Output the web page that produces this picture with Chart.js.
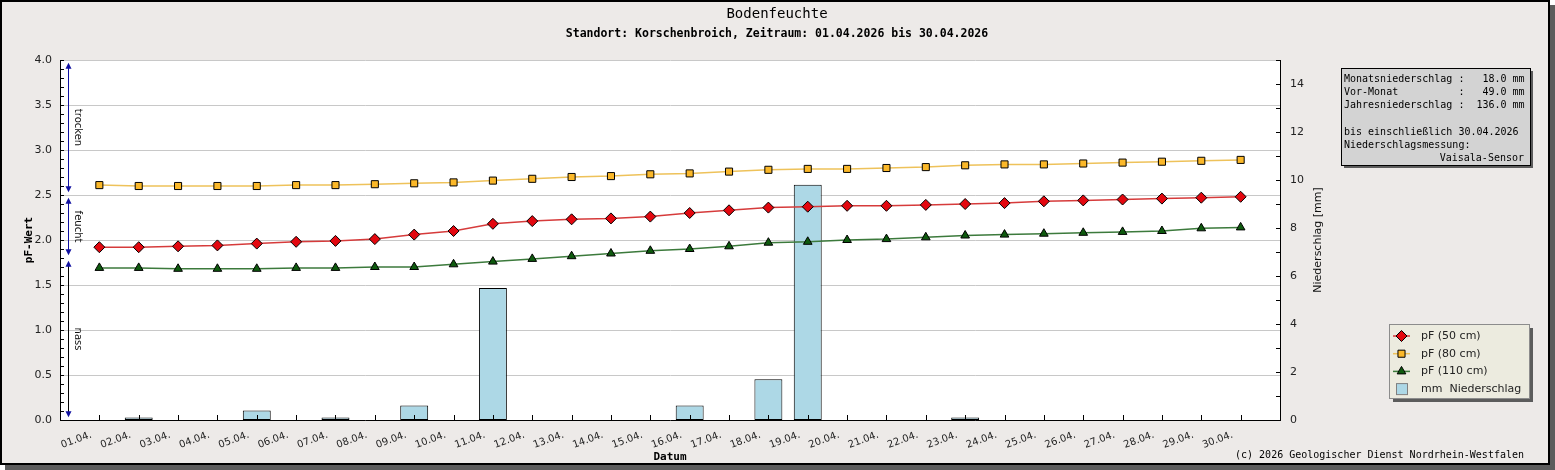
<!DOCTYPE html>
<html>
<head>
<meta charset="utf-8">
<title>Bodenfeuchte</title>
<script src="https://cdn.jsdelivr.net/npm/chart.js@4.4.1/dist/chart.umd.min.js"></script>
<style>
  body { margin: 0; background: #ffffff; }
</style>
</head>
<body>
<canvas id="myChart" width="1555" height="470"></canvas>
<script>
const tage = ["01.04.", "02.04.", "03.04.", "04.04.", "05.04.", "06.04.", "07.04.", "08.04.", "09.04.", "10.04.",
  "11.04.", "12.04.", "13.04.", "14.04.", "15.04.", "16.04.", "17.04.", "18.04.", "19.04.", "20.04.",
  "21.04.", "22.04.", "23.04.", "24.04.", "25.04.", "26.04.", "27.04.", "28.04.", "29.04.", "30.04."];
const pf50 = [1.92, 1.92, 1.93, 1.94, 1.96, 1.98, 1.99, 2.01, 2.06, 2.10,
  2.18, 2.21, 2.23, 2.24, 2.26, 2.30, 2.33, 2.36, 2.37, 2.38,
  2.38, 2.39, 2.40, 2.41, 2.43, 2.44, 2.45, 2.46, 2.47, 2.48];
const pf80 = [2.61, 2.60, 2.60, 2.60, 2.60, 2.61, 2.61, 2.62, 2.63, 2.64,
  2.66, 2.68, 2.70, 2.71, 2.73, 2.74, 2.76, 2.78, 2.79, 2.79,
  2.80, 2.81, 2.83, 2.84, 2.84, 2.85, 2.86, 2.87, 2.88, 2.89];
const pf110 = [1.69, 1.69, 1.68, 1.68, 1.68, 1.69, 1.69, 1.70, 1.70, 1.73,
  1.76, 1.79, 1.82, 1.85, 1.88, 1.90, 1.93, 1.97, 1.98, 2.00,
  2.01, 2.03, 2.05, 2.06, 2.07, 2.08, 2.09, 2.10, 2.13, 2.14];
const niederschlag = [0, 0.1, 0, 0, 0.4, 0, 0.1, 0, 0.6, 0,
  5.5, 0, 0, 0, 0, 0.6, 0, 1.7, 9.8, 0,
  0, 0, 0.1, 0, 0, 0, 0, 0, 0, 0];

// Bereiche links an der pF-Achse
const zonen = ["trocken", "feucht", "nass"];
const zoneVon = [2.5, 1.8, 0.0];
const zoneBis = [4.0, 2.5, 1.8];

const infoZeilen = [
  "Monatsniederschlag :   18.0 mm",
  "Vor-Monat          :   49.0 mm",
  "Jahresniederschlag :  136.0 mm",
  "",
  "bis einschließlich 30.04.2026",
  "Niederschlagsmessung:"
];
const sensor = "Vaisala-Sensor";

const mono = "'DejaVu Sans Mono', 'Liberation Mono', monospace";
const sans = "'DejaVu Sans', 'Noto Sans', sans-serif";

// Tag i liegt auf x = i + 1, links und rechts bleibt ein Tag frei
const punkte = (werte) => werte.map((v, i) => ({x: i + 1, y: v}));

function pfeil(c, x, y, dir) {
  c.beginPath();
  c.moveTo(x, y);
  c.lineTo(x - 3, y - 6 * dir);
  c.lineTo(x + 3, y - 6 * dir);
  c.closePath();
  c.fill();
}

const extras = {
  id: 'extras',
  beforeDraw(chart) {
    const c = chart.ctx, a = chart.chartArea;
    c.save();
    c.fillStyle = '#5c5c5c';
    c.fillRect(5, 5, 1550, 465);
    c.fillStyle = '#edeae8';
    c.fillRect(0, 0, 1550, 465);
    c.strokeStyle = '#000';
    c.lineWidth = 2;
    c.strokeRect(1, 1, 1548, 463);
    c.fillStyle = '#ffffff';
    c.fillRect(a.left, a.top, a.right - a.left, a.bottom - a.top);
    c.restore();
  },
  afterDraw(chart) {
    const c = chart.ctx, a = chart.chartArea;
    const x = chart.scales.x, y = chart.scales.y, y2 = chart.scales.y2;
    c.save();

    // kleine Striche
    c.strokeStyle = '#000';
    c.lineWidth = 1;
    c.beginPath();
    tage.forEach((t, i) => {
      const px = Math.round(x.getPixelForValue(i + 1)) + 0.5;
      c.moveTo(px, a.bottom);
      c.lineTo(px, a.bottom - 5);
    });
    y.ticks.forEach(t => {
      const py = Math.round(y.getPixelForValue(t.value)) + 0.5;
      c.moveTo(a.left, py);
      c.lineTo(a.left + 4, py);
    });
    y2.ticks.forEach(t => {
      const py = Math.round(y2.getPixelForValue(t.value)) + 0.5;
      c.moveTo(a.right - 4, py);
      c.lineTo(a.right + 1, py);
    });
    c.stroke();

    // trocken / feucht / nass
    const ax = a.left + 8.5;
    zonen.forEach((name, i) => {
      const top = y.getPixelForValue(zoneBis[i] - 0.03);
      const bot = y.getPixelForValue(zoneVon[i] + 0.03);
      c.strokeStyle = i == 2 ? '#000000' : '#1010a0';
      c.beginPath();
      c.moveTo(ax, top + 4);
      c.lineTo(ax, bot - 4);
      c.stroke();
      c.fillStyle = '#1010a0';
      pfeil(c, ax, top, -1);
      pfeil(c, ax, bot, 1);
      c.save();
      c.translate(ax + 9, (top + bot) / 2);
      c.rotate(Math.PI / 2);
      c.fillStyle = '#111';
      c.font = "10px " + sans;
      c.textAlign = 'center';
      c.textBaseline = 'middle';
      c.fillText(name, 0, 0);
      c.restore();
    });

    // Titel
    c.fillStyle = '#000';
    c.textAlign = 'center';
    c.textBaseline = 'middle';
    c.font = "14px " + mono;
    c.fillText("Bodenfeuchte", 777, 14);
    c.font = "bold 11.5px " + mono;
    c.fillText("Standort: Korschenbroich, Zeitraum: 01.04.2026 bis 30.04.2026", 777, 34);

    // rechte Achsenbeschriftung
    c.save();
    c.translate(1318, (a.top + a.bottom) / 2);
    c.rotate(-Math.PI / 2);
    c.font = "11px " + sans;
    c.fillStyle = '#111';
    c.fillText("Niederschlag [mm]", 0, 0);
    c.restore();

    // Infokasten
    c.fillStyle = '#5c5c5c';
    c.fillRect(1344, 71, 189, 97);
    c.fillStyle = '#d3d3d3';
    c.fillRect(1341, 68, 189, 97);
    c.strokeStyle = '#000';
    c.strokeRect(1341.5, 68.5, 189, 97);
    c.fillStyle = '#000';
    c.font = "10px " + mono;
    c.textAlign = 'left';
    infoZeilen.forEach((z, i) => c.fillText(z, 1344, 79.5 + i * 13.2));
    c.textAlign = 'right';
    c.fillText(sensor, 1524, 79.5 + 6 * 13.2);

    // Legende
    const lx = 1389, ly = 324;
    c.fillStyle = '#5c5c5c';
    c.fillRect(lx + 4, ly + 4, 140, 74);
    c.fillStyle = '#ecebdf';
    c.fillRect(lx, ly, 140, 74);
    c.strokeStyle = '#8c8c8c';
    c.strokeRect(lx + 0.5, ly + 0.5, 140, 74);
    c.font = "11px " + sans;
    c.textAlign = 'left';
    chart.data.datasets.forEach((ds, i) => {
      const yy = ly + 12 + i * 17.7;
      if (ds.type === 'line') {
        c.strokeStyle = ds.borderColor;
        c.lineWidth = 1.5;
        c.beginPath();
        c.moveTo(lx + 4, yy);
        c.lineTo(lx + 21, yy);
        c.stroke();
        c.fillStyle = ds.pointBackgroundColor;
        c.strokeStyle = '#000';
        c.lineWidth = 1;
        Chart.helpers.drawPoint(c, {pointStyle: ds.pointStyle, radius: ds.pointRadius, rotation: 0, borderWidth: 1}, lx + 12.5, yy);
      } else {
        c.fillStyle = ds.backgroundColor;
        c.fillRect(lx + 7, yy - 6, 11, 11);
        c.strokeStyle = '#808080';
        c.lineWidth = 1;
        c.strokeRect(lx + 7.5, yy - 5.5, 11, 11);
      }
      c.fillStyle = '#222';
      c.fillText(ds.label, lx + 32, yy);
    });

    // Copyright
    c.fillStyle = '#000';
    c.font = "10px " + mono;
    c.textAlign = 'right';
    c.fillText("(c) 2026 Geologischer Dienst Nordrhein-Westfalen", 1524, 455);

    c.restore();
  }
};

new Chart("myChart", {
  type: "bar",
  data: {
    datasets: [{
      type: "line",
      label: "pF (50 cm)",
      data: punkte(pf50),
      yAxisID: "y",
      borderColor: "#d63b3b",
      borderWidth: 1.5,
      pointStyle: "rectRot",
      pointRadius: 5.5,
      pointBackgroundColor: "#e3070f",
      pointBorderColor: "#000",
      pointBorderWidth: 1,
      order: 1
    }, {
      type: "line",
      label: "pF (80 cm)",
      data: punkte(pf80),
      yAxisID: "y",
      borderColor: "#eec25a",
      borderWidth: 1.5,
      pointStyle: "rect",
      pointRadius: 5,
      pointBackgroundColor: "#fbb829",
      pointBorderColor: "#000",
      pointBorderWidth: 1,
      order: 1
    }, {
      type: "line",
      label: "pF (110 cm)",
      data: punkte(pf110),
      yAxisID: "y",
      borderColor: "#3c7a3c",
      borderWidth: 1.5,
      pointStyle: "triangle",
      pointRadius: 5,
      pointBackgroundColor: "#0e5a0e",
      pointBorderColor: "#000",
      pointBorderWidth: 1,
      order: 1
    }, {
      type: "bar",
      label: "mm  Niederschlag",
      data: punkte(niederschlag),
      yAxisID: "y2",
      backgroundColor: "#add8e6",
      borderColor: "#000",
      borderWidth: 1,
      borderSkipped: false,
      barPercentage: 0.71,
      categoryPercentage: 1.0,
      order: 2
    }]
  },
  options: {
    responsive: false,
    animation: false,
    devicePixelRatio: 1,
    layout: {padding: {left: 0, right: 215, top: 60, bottom: 5}},
    plugins: {
      legend: {display: false},
      tooltip: {enabled: false}
    },
    scales: {
      x: {
        type: "linear",
        min: 0, max: tage.length + 1,
        offset: false,
        grid: {display: false, drawTicks: false},
        border: {display: true, color: "#000", width: 1},
        ticks: {
          stepSize: 1, autoSkip: false, maxRotation: 20, minRotation: 20,
          padding: 9, labelOffset: -8,
          color: "#222", font: {family: sans, size: 10},
          callback: (v) => tage[v - 1] || ""
        },
        title: {
          display: true, text: "Datum", color: "#000",
          font: {family: mono, size: 11, weight: "bold"}, padding: {top: 0, bottom: 1}
        },
        afterFit(scale) { scale.height = 45; }
      },
      y: {
        position: "left",
        min: 0, max: 4,
        grid: {
          drawTicks: false,
          color: (ctx) => {
            const v = Math.round(ctx.tick.value * 10);
            return (v % 5 === 0 && v > 0) ? "#c8c8c8" : "rgba(0,0,0,0)";
          }
        },
        border: {display: true, color: "#000", width: 1},
        ticks: {
          stepSize: 0.1, autoSkip: false, padding: 8,
          color: "#222", font: {family: sans, size: 11},
          callback: (v) => Math.round(v * 10) % 5 === 0 ? v.toFixed(1) : ""
        },
        title: {
          display: true, text: "pF-Wert", color: "#000",
          font: {family: mono, size: 11, weight: "bold"}, padding: {top: 23, bottom: 0}
        },
        afterFit(scale) { scale.width = 60; }
      },
      y2: {
        position: "right",
        min: 0, max: 15,
        grid: {display: false, drawTicks: false},
        border: {display: true, color: "#000", width: 1},
        ticks: {
          stepSize: 1, autoSkip: false, padding: 10,
          color: "#222", font: {family: sans, size: 11},
          callback: (v) => v % 2 === 0 ? v : ""
        },
        afterFit(scale) { scale.width = 60; }
      }
    }
  },
  plugins: [extras]
});
</script>
</body>
</html>
